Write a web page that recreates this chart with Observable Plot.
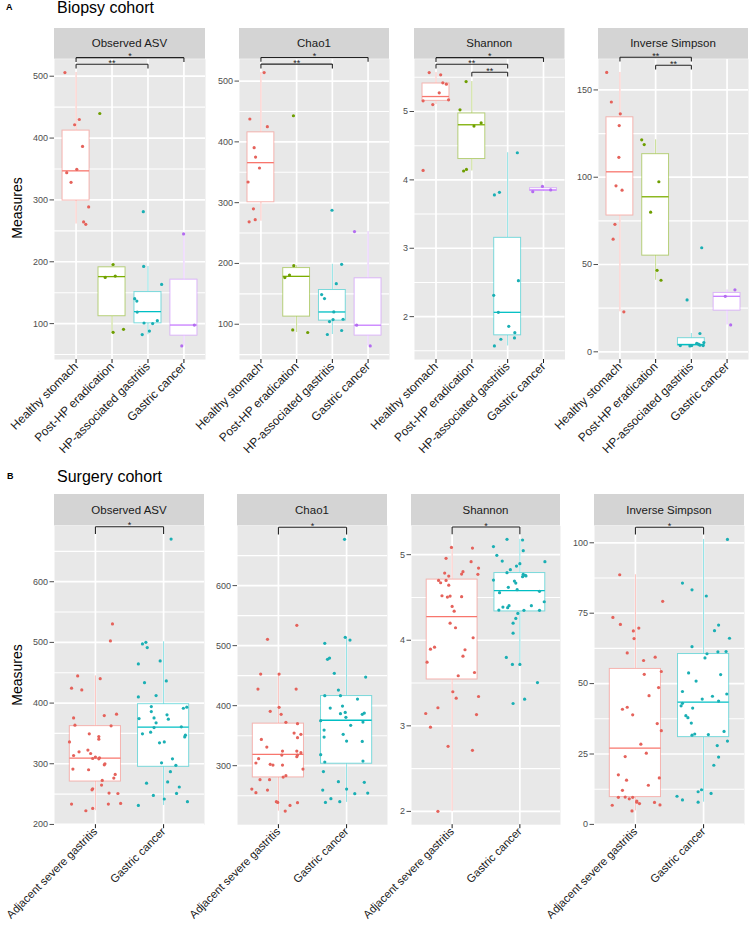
<!DOCTYPE html>
<html><head><meta charset="utf-8">
<script src="https://cdn.jsdelivr.net/npm/d3@7"></script>
<script src="https://cdn.jsdelivr.net/npm/@observablehq/plot@0.6"></script>
<style>
body{margin:0;background:#fff;font-family:"Liberation Sans",Arial,sans-serif;}
#root{position:relative;width:749px;height:927px;overflow:hidden;background:#fff;}
.abs{position:absolute;white-space:nowrap;line-height:1;}
.panel{position:absolute;}
.panel svg{overflow:visible;}
</style></head><body><div id="root"></div>
<script>
// ---------------- DATA ----------------
const bioGroups = ["Healthy stomach","Post-HP eradication","HP-associated gastritis","Gastric cancer"];
const surGroups = ["Adjacent severe gastritis","Gastric cancer"];
const bioColors = ["#F8766D","#7CAE00","#00BFC4","#C77CFF"];
const surColors = ["#F8766D","#00BFC4"];
const bioPointColors = ["#E5625B","#6E9E00","#1AAFB4","#B36CF0"];
const surPointColors = ["#E5625B","#1AAFB4"];
const metrics = ["Observed ASV","Chao1","Shannon","Inverse Simpson"];

// points: [jitter offset (category units), value]
const bioObservedPts = [
 [[-0.31,505.8],[-0.04,421.5],[0.09,430],[0.18,386.5],[0.02,349.4],[-0.26,344],[-0.14,328.4],[0.35,288.7],[0.21,264.5],[0.27,260.6]],
 [[-0.34,439.7],[0.03,195.6],[-0.19,174.7],[0.09,176.8],[0.03,86],[0.32,90.8]],
 [[-0.13,281],[-0.12,192.4],[0.38,163.4],[-0.37,140.3],[-0.31,136.5],[-0.30,118.7],[-0.11,101],[0.13,100],[0.26,104.8],[0.04,88],[-0.16,82.3]],
 [[-0.01,245],[0.29,97.7],[-0.06,63.9]]
];
const bioChao1Pts = [
 [[0.09,514],[-0.31,437.6],[0.18,425],[-0.19,390.5],[-0.15,375],[-0.04,357],[-0.36,334],[-0.21,289.8],[-0.16,272],[-0.33,268.5]],
 [[-0.09,443],[-0.08,196.4],[-0.20,181],[-0.33,176.7],[-0.11,90.6],[0.31,86.4]],
 [[-0.01,287.5],[0.26,198.5],[0.11,166.8],[-0.30,148.8],[-0.22,142.2],[0.04,120.2],[0.02,107.7],[0.30,108.2],[-0.08,104.4],[0.26,89.7],[-0.14,83.1]],
 [[-0.38,252.5],[-0.32,98.4],[0.06,64.4]]
];
const bioShannonPts = [
 [[-0.19,5.569],[0.13,5.536],[0.19,5.419],[0.29,5.4],[0.09,5.273],[-0.36,5.156],[0.35,5.171],[-0.09,5.102],[-0.36,4.139]],
 [[-0.16,5.438],[-0.33,5.025],[0.26,4.835],[0.06,4.787],[-0.23,4.13],[-0.15,4.153]],
 [[0.27,4.397],[-0.37,3.78],[-0.23,3.818],[-0.39,2.311],[0.30,2.526],[-0.26,2.063],[0.03,1.858],[0.20,1.766],[0.19,1.688],[-0.19,1.669],[-0.37,1.571]],
 [[-0.30,3.828],[-0.03,3.905],[0.20,3.853]]
];
const bioInvSimpsonPts = [
 [[-0.37,160],[-0.24,143.1],[0.01,136.3],[-0.02,129.6],[-0.03,111.4],[-0.11,95.1],[0.06,92.6],[-0.14,73],[-0.19,64.5],[0.11,22.9]],
 [[-0.39,121.4],[-0.32,118.7],[0.09,97.4],[-0.14,80],[0.04,46.7],[0.15,41]],
 [[0.29,59.6],[-0.12,29.7],[0.24,10.5],[-0.31,3.6],[-0.04,3.4],[0.01,3.6],[0.15,4.9],[0.24,3.8],[0.33,3.6],[0.35,5.3],[0.20,4.4]],
 [[-0.05,31.8],[0.22,35.5],[0.10,15.4]]
];

// box stats: [lower whisker, q1, median, q3, upper whisker]
const bioObservedBox = [[261,299,347,412,506],[86,112,176,191,196],[82,100.5,119.4,151,192.4],[64,80.6,97.7,171,245]];
const bioChao1Box = [[269.5,300.7,365.8,415.6,514],[86.4,112.6,178.8,192.4,196.4],[83.1,106,120.2,156.3,198.5],[64.4,81.4,98.4,175.5,252.5]];
const bioShannonBox = [[5.102,5.156,5.219,5.409,5.569],[4.13,4.305,4.806,4.971,5.438],[1.571,1.727,2.063,3.152,4.397],[3.828,3.84,3.853,3.879,3.905]];
const bioInvSimpsonBox = [[22.9,78.1,103.1,134.3,160],[41,55.1,88.8,113.2,121.4],[3.4,3.6,4.2,7.8,10.5],[15.4,23.6,31.8,33.7,35.5]];

// significance brackets: [from group, to group, label, y]
const bioObservedSig = [[1,4,"*",530],[1,3,"**",519.4]];
const bioChao1Sig = [[1,4,"*",538.8],[1,3,"**",527.9]];
const bioShannonSig = [[1,4,"*",5.788],[1,3,"**",5.692],[2,3,"**",5.575]];
const bioInvSimpsonSig = [[1,3,"**",168.7],[2,3,"**",164.1]];

const surObservedPts = [
 [[0.25,530.4],[0.22,502.4],[-0.26,444.8],[-0.35,424.5],[-0.20,421.7],[0.07,440.3],[-0.32,375.6],[0.13,379.4],[0.31,381.7],[-0.30,363.6],
  [0.23,362.5],[-0.09,349.3],[0.05,344.8],[0.05,340.6],[-0.38,336],[-0.11,322.5],[-0.24,319.7],[-0.07,316.9],[-0.32,313.6],[0.00,311],
  [0.06,309.8],[-0.04,308.7],[0.05,308.1],[0.14,299.9],[0.13,298.3],[-0.33,291.2],[-0.10,290.1],[0.29,282.4],[0.27,276.4],[0.10,272.5],
  [0.09,264.9],[-0.04,258.8],[-0.05,257.1],[0.20,251.7],[0.33,251],[-0.35,233.6],[0.19,233.6],[0.37,234.6],[-0.04,226.4],[-0.14,222.6]],
 [[0.11,670.3],[-0.31,497.5],[-0.26,500.2],[-0.24,491.4],[-0.37,464.5],[-0.05,469.5],[-0.28,433.7],[0.04,436.6],[-0.37,410.2],[-0.11,412.3],
  [-0.18,394.2],[0.29,391.5],[0.34,393.2],[-0.18,386],[0.05,380.6],[-0.14,375.6],[-0.36,374.5],[0.07,373.5],[-0.11,367.4],[-0.14,359.7],
  [0.26,360.8],[-0.19,352],[-0.31,349.3],[0.32,347.1],[0.31,344.3],[-0.06,334.5],[0.01,336],[0.13,308.1],[-0.03,301.6],[0.18,297.5],
  [0.10,287],[-0.25,268],[0.06,270.1],[0.23,261.7],[-0.15,247.8],[0.19,251.1],[0.01,241.9],[0.35,237.6],[-0.37,231.3]]
];
const surChao1Pts = [
 [[0.27,533.8],[-0.16,510.5],[-0.26,452.7],[0.01,452.7],[-0.30,427.7],[0.26,427.7],[0.01,397.2],[-0.12,390.5],[0.04,385.5],[0.11,372.2],
  [0.28,370],[0.23,354.3],[0.33,352.2],[0.28,346.7],[-0.25,343.8],[-0.17,331],[0.06,324.3],[0.27,324.3],[0.33,321.7],[0.05,317.7],
  [0.28,317.7],[0.27,315],[-0.29,311.7],[-0.33,304.5],[-0.12,302.2],[-0.08,301.1],[0.06,301.1],[0.36,294.4],[0.11,283.3],[0.07,281.1],
  [-0.27,276.7],[-0.13,276.7],[-0.39,261.1],[-0.33,255],[-0.16,259.4],[-0.03,240],[-0.01,238.8],[0.17,233.8],[0.28,238.3],[0.10,224.3]],
 [[-0.03,677.2],[-0.02,513.8],[0.05,509.3],[-0.32,503.8],[-0.28,477.2],[-0.25,479.3],[-0.18,453.8],[0.28,447.7],[-0.12,426],[-0.32,416.7],
  [-0.09,416.7],[0.16,411],[-0.24,396],[-0.06,399.3],[-0.02,388.8],[-0.09,386.7],[0.23,385.5],[0.26,387.7],[-0.01,380.5],[-0.38,375],
  [0.24,372.7],[0.06,367.2],[-0.33,359.3],[-0.33,347.7],[-0.05,352.2],[0.00,341],[0.23,340.5],[-0.38,318.3],[0.24,307.7],[-0.32,306.1],
  [-0.34,290.2],[-0.35,259.4],[-0.12,273.3],[0.26,272.2],[0.00,261.1],[0.12,253.3],[0.31,254.4],[-0.23,245],[-0.31,238.8],[-0.10,240]]
];
const surShannonPts = [
 [[-0.01,5.085],[0.30,5.077],[-0.09,4.957],[0.28,4.918],[0.39,4.843],[-0.11,4.785],[0.16,4.801],[0.14,4.773],[-0.05,4.75],[0.38,4.77],
  [-0.20,4.699],[-0.17,4.672],[-0.09,4.699],[-0.05,4.644],[-0.15,4.52],[-0.07,4.504],[-0.03,4.516],[0.14,4.509],[0.00,4.395],[0.03,4.34],
  [-0.03,4.2],[0.05,4.146],[0.31,4.029],[-0.26,3.919],[-0.32,3.896],[0.19,3.889],[0.16,3.814],[-0.37,3.744],[0.33,3.623],[0.09,3.585],
  [0.01,3.398],[0.06,3.323],[0.39,3.343],[-0.21,3.211],[-0.39,3.144],[0.36,3.132],[-0.32,2.984],[-0.06,2.761],[0.30,2.714],[-0.21,2.001]],
 [[-0.19,5.179],[0.04,5.171],[-0.39,5.094],[0.05,5.047],[-0.34,4.992],[-0.26,4.925],[0.37,4.918],[0.00,4.895],[-0.05,4.867],[-0.14,4.825],
  [-0.19,4.789],[0.05,4.77],[0.08,4.758],[0.09,4.752],[0.04,4.743],[-0.39,4.703],[-0.08,4.691],[-0.06,4.668],[-0.17,4.618],[-0.04,4.591],
  [0.29,4.571],[-0.30,4.556],[0.36,4.45],[0.17,4.404],[-0.25,4.387],[-0.16,4.404],[-0.18,4.38],[-0.31,4.352],[0.06,4.349],[0.29,4.349],
  [-0.03,4.313],[-0.06,4.255],[-0.10,4.2],[-0.10,4.083],[-0.20,3.799],[-0.11,3.717],[0.00,3.717],[0.26,3.506],[0.07,3.311],[-0.10,3.261]]
];
const surInvSimpsonPts = [
 [[-0.23,88.65],[0.40,79.2],[-0.33,73.5],[-0.22,71],[0.05,69.7],[-0.03,68.7],[-0.02,66],[-0.12,60.9],[0.29,59.4],[0.12,58.2],
  [0.38,54.3],[0.13,53.3],[0.34,48.6],[0.20,45.7],[-0.12,41.6],[-0.19,40.9],[-0.04,38.9],[0.32,35.8],[0.38,33.3],[0.08,28.5],
  [0.16,25.3],[-0.15,24.1],[-0.25,17.6],[-0.13,15.7],[0.19,13.9],[-0.19,12.1],[0.35,16.5],[-0.25,9.6],[-0.15,9.7],[-0.09,9.1],
  [-0.04,9.6],[0.02,8.3],[0.02,7.9],[0.06,7.4],[0.28,7.8],[0.36,6.9],[-0.34,6.8],[-0.05,4.8]],
 [[0.35,101.2],[-0.31,85.7],[-0.17,83.3],[0.04,81.1],[0.22,70.8],[0.16,68.8],[0.38,66.1],[-0.17,63.1],[0.21,61.3],[0.33,61.4],
  [0.05,60.6],[0.02,59.1],[-0.22,53.8],[0.25,53.2],[-0.11,50.9],[-0.31,47.2],[0.34,46.3],[0.13,45.5],[-0.02,44.5],[0.22,43.8],
  [-0.31,43],[-0.33,42.1],[-0.16,41.3],[-0.26,38.6],[-0.23,37.9],[-0.18,36],[0.30,33],[-0.13,32.1],[-0.17,31.7],[0.07,31.9],
  [0.35,29.6],[0.20,28],[0.22,23.9],[0.15,21],[0.11,11],[-0.03,12.3],[-0.08,11.6],[-0.08,7.9],[-0.31,8.7],[-0.39,10]]
];
const surObservedBox = [[222.6,270.8,309.3,362,444.8],[231.3,295,360.3,398.2,501]];
const surChao1Box = [[224.3,280.5,318.8,370,452.7],[238.8,303.3,375.7,416,513.8]];
const surShannonBox = [[2.001,3.542,4.275,4.708,5.085],[3.717,4.337,4.579,4.785,5.179]];
const surInvSimpsonBox = [[4.8,9.7,27.1,55.2,88.65],[7.9,31,43.4,60.5,101.2]];
const surObservedSig = [[1,2,"*",690.5]];
const surChao1Sig = [[1,2,"*",697.3]];
const surShannonSig = [[1,2,"*",5.323]];
const surInvSimpsonSig = [[1,2,"*",105.5]];

// y-axis domains and ticks
const bioDomains = [[42,527.5],[42,536],[1.373,5.765],[-4.4,167.6]];
const bioTicks = [[100,200,300,400,500],[100,200,300,400,500],[2,3,4,5],[0,50,100,150]];
const bioMinor = [[50,150,250,350,450],[50,150,250,350,450],[1.5,2.5,3.5,4.5,5.5],[25,75,125]];
const surDomains = [[199.6,692],[201.7,699.5],[1.845,5.336],[-0.1,106]];
const surTicks = [[200,300,400,500,600],[300,400,500,600],[2,3,4,5],[0,25,50,75,100]];
const surMinor = [[250,350,450,550,650],[250,350,450,550,650],[2.5,3.5,4.5],[12.5,37.5,62.5,87.5]];

// ---------------- LAYOUT ----------------
const root = document.getElementById("root");
const FONT = "Liberation Sans, Arial, Helvetica, sans-serif";
const PANEL_BG = "#E8E8E8", STRIP_BG = "#D4D4D4";

function addText(txt, css) {
  const d = document.createElement("div");
  d.className = "abs"; d.textContent = txt;
  Object.assign(d.style, css);
  root.appendChild(d);
}

function stripMark(title, h) {
  return (index, scales, values, dims) => {
    const g = d3.create("svg:g");
    const w = dims.width - dims.marginLeft - dims.marginRight;
    g.append("rect").attr("x", dims.marginLeft).attr("y", dims.marginTop - h)
      .attr("width", w).attr("height", h).attr("fill", STRIP_BG);
    g.append("text").attr("x", dims.marginLeft + w / 2).attr("y", dims.marginTop - h / 2)
      .attr("dy", "0.35em").attr("text-anchor", "middle").attr("font-size", 11.5)
      .attr("fill", "#1A1A1A").text(title);
    return g.node();
  };
}

function panel(opts) {
  const {L, R, stripTop, stripH, plotBottom, groups, colors, pointColors, pts, box, sig, domain, ticks, minor, title, tickPx, labelSize} = opts;
  const mL = 40, mR = 2, mB = 2;
  const n = groups.length;
  const plotH = plotBottom - stripTop - stripH;
  const span = domain[1] - domain[0];
  const tickU = tickPx * span / plotH;
  const marks = [
    Plot.frame({fill: PANEL_BG, stroke: null}),
    Plot.ruleY(minor, {stroke: "white", strokeWidth: 1.1}),
    Plot.ruleY(ticks, {stroke: "white", strokeWidth: 1.7}),
    Plot.ruleX(d3.range(1, n + 1), {stroke: "white", strokeWidth: 1.7})
  ];
  groups.forEach((g, i) => {
    const c = colors[i], k = i + 1, b = box[i];
    const row = [{lo: b[0], q1: b[1], med: b[2], q3: b[3], hi: b[4]}];
    marks.push(
      Plot.ruleX(row, {x: () => k, y1: "lo", y2: "q1", stroke: c, strokeOpacity: 0.45, strokeWidth: 1}),
      Plot.ruleX(row, {x: () => k, y1: "q3", y2: "hi", stroke: c, strokeOpacity: 0.45, strokeWidth: 1}),
      Plot.rect(row, {x1: () => k - 0.375, x2: () => k + 0.375, y1: "q1", y2: "q3", fill: "white", stroke: c, strokeOpacity: 0.5, strokeWidth: 1}),
      Plot.ruleY(row, {x1: () => k - 0.375, x2: () => k + 0.375, y: "med", stroke: c, strokeWidth: 1.3})
    );
  });
  groups.forEach((g, i) => {
    const k = i + 1;
    marks.push(Plot.dot(pts[i], {x: d => k + d[0], y: d => d[1], r: 1.6, fill: pointColors[i], stroke: null}));
  });
  marks.push(stripMark(title, stripH));
  // brackets
  const segs = [];
  sig.forEach(([a, b, lab, y]) => {
    segs.push({x1: a, y1: y - tickU, x2: a, y2: y});
    segs.push({x1: a, y1: y, x2: b, y2: y});
    segs.push({x1: b, y1: y, x2: b, y2: y - tickU});
  });
  marks.push(
    Plot.link(segs, {x1: "x1", y1: "y1", x2: "x2", y2: "y2", stroke: "#222", strokeWidth: 1.1}),
    Plot.text(sig, {x: d => (d[0] + d[1]) / 2, y: d => d[3], text: d => d[2], fontSize: 9, fill: "#222", lineAnchor: "bottom", dy: 1.5}),
    Plot.axisY(ticks, {anchor: "left", tickSize: 4.5, tickPadding: 2, fontSize: 9, color: "#4D4D4D", label: null, tickFormat: d => String(d)}),
    Plot.axisX(d3.range(1, n + 1), {anchor: "bottom", tickSize: 4, tickPadding: 1, tickRotate: -45, fontSize: labelSize, color: "#1A1A1A", label: null, tickFormat: v => groups[v - 1]})
  );
  const width = R - L + mL + mR;
  const height = plotBottom - stripTop + mB;
  const svg = Plot.plot({
    width, height,
    marginLeft: mL, marginRight: mR, marginTop: stripH, marginBottom: mB,
    x: {domain: [0.4, n + 0.6], label: null},
    y: {domain, label: null},
    style: {background: "transparent", overflow: "visible", fontFamily: FONT},
    marks
  });
  const wrap = document.createElement("div");
  wrap.className = "panel";
  wrap.style.left = (L - mL) + "px";
  wrap.style.top = stripTop + "px";
  wrap.style.width = width + "px";
  wrap.appendChild(svg);
  root.appendChild(wrap);
}

const bioPts = [bioObservedPts, bioChao1Pts, bioShannonPts, bioInvSimpsonPts];
const bioBox = [bioObservedBox, bioChao1Box, bioShannonBox, bioInvSimpsonBox];
const bioSig = [bioObservedSig, bioChao1Sig, bioShannonSig, bioInvSimpsonSig];
const surPts = [surObservedPts, surChao1Pts, surShannonPts, surInvSimpsonPts];
const surBox = [surObservedBox, surChao1Box, surShannonBox, surInvSimpsonBox];
const surSig = [surObservedSig, surChao1Sig, surShannonSig, surInvSimpsonSig];

const topLR = [[54,205],[239,389],[413.5,564],[598,748]];
const botLR = [[54,204],[237,387],[411,560],[594,744]];

metrics.forEach((m, i) => panel({
  L: topLR[i][0], R: topLR[i][1], stripTop: 28, stripH: 30.7, plotBottom: 359,
  groups: bioGroups, colors: bioColors, pointColors: bioPointColors, pts: bioPts[i], box: bioBox[i], sig: bioSig[i],
  domain: bioDomains[i], ticks: bioTicks[i], minor: bioMinor[i], title: m, tickPx: 4.3, labelSize: 12
}));
metrics.forEach((m, i) => panel({
  L: botLR[i][0], R: botLR[i][1], stripTop: 494.3, stripH: 31.4, plotBottom: 824.5,
  groups: surGroups, colors: surColors, pointColors: surPointColors, pts: surPts[i], box: surBox[i], sig: surSig[i],
  domain: surDomains[i], ticks: surTicks[i], minor: surMinor[i], title: m, tickPx: 7.3, labelSize: 11.3
}));

// titles and labels
addText("A", {left: "6px", top: "3px", fontSize: "9px", fontWeight: "bold", color: "#000"});
addText("Biopsy cohort", {left: "57px", top: "0px", fontSize: "16px", color: "#000"});
addText("B", {left: "7px", top: "472px", fontSize: "9px", fontWeight: "bold", color: "#000"});
addText("Surgery cohort", {left: "57px", top: "469px", fontSize: "16px", color: "#000"});
addText("Measures", {left: "17px", top: "208px", fontSize: "14px", color: "#000", transform: "translate(-50%,-50%) rotate(-90deg)"});
addText("Measures", {left: "17px", top: "675px", fontSize: "14px", color: "#000", transform: "translate(-50%,-50%) rotate(-90deg)"});
</script></body></html>
